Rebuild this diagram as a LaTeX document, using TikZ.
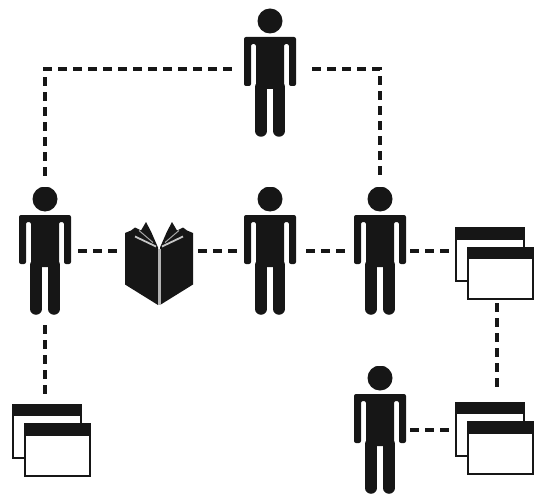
\documentclass[tikz,border=0pt]{standalone}
\usepackage{amsmath, amssymb, amsfonts}
\usepackage{tikz}
\definecolor{ink}{HTML}{161616}
\newcommand{\figureshape}{
    \begin{scope}[shift={(path picture bounding box.center)},x=1pt,y=1pt]
        \fill[ink] (0,52) circle (12.5);
        \fill[ink,rounded corners=2pt] (-26,36) -- (26,36) -- (26,-13) -- (19,-13) -- (19,29) -- (14,29) -- (14,-16) -- (-14,-16) -- (-14,29) -- (-19,29) -- (-19,-13) -- (-26,-13) -- cycle;
        \draw[ink,line width=11.5pt,line cap=round] (-9,-14) -- (-9,-58) (9,-14) -- (9,-58);
    \end{scope}
}
\newcommand{\bookshape}{
    \begin{scope}[shift={(path picture bounding box.center)},x=1pt,y=1pt]
        \foreach \s in {-1,1} {
            \fill[ink] (\s*34,30.5) -- (\s*28,33) -- (\s*24,36) -- (\s*18,33) -- (\s*13,41.5) -- (\s*8,32) -- (\s*1,16) -- (\s*1,-41.5) -- (\s*34,-21) -- cycle;
            \draw[gray!45,line width=1.8pt] (\s*24,27) -- (\s*3,17);
            \draw[gray!70,line width=1pt] (\s*20,33) -- (\s*6,21);
        }
        \draw[gray!60,line width=3pt] (0,15) -- (0,-41.5);
    \end{scope}
}
\newcommand{\windowshape}{
    \begin{scope}[shift={(path picture bounding box.center)},x=1pt,y=1pt]
        \draw[ink,line width=2pt,fill=white] (-38.5,35.5) rectangle (29,-17.5);
        \fill[ink] (-39.5,36.5) rectangle (30,24);
        \draw[ink,line width=2pt,fill=white] (-27,16) rectangle (38.5,-35.5);
        \fill[ink] (-28,16.5) rectangle (39.5,4.5);
    \end{scope}
}
\begin{document}
\begin{tikzpicture}[x=1pt,y=1pt,node distance=100pt]
                \tikzstyle{person}=[inner sep=0pt,minimum width=52pt,minimum height=128pt,path picture={\figureshape}]
                \tikzstyle{manual}=[inner sep=0pt,minimum width=68pt,minimum height=83pt,path picture={\bookshape}]
                \tikzstyle{windows}=[inner sep=0pt,minimum width=79pt,minimum height=73pt,path picture={\windowshape}]
                \tikzstyle{link}=[ink,line width=4.5pt,dash pattern=on 9pt off 6pt]
                \useasboundingbox (0,0) rectangle (534,-494);

                \node[person]   (boss)  at (270,-73)                            {};
                \node[person]   (mid)   [below of=boss,node distance=178pt]     {};
                \node[person]   (lead)  [left of=mid,node distance=225pt]       {};
                \node[person]   (peer)  [right of=mid,node distance=110pt]      {};
                \node[person]   (clerk) [below of=peer,node distance=179pt]     {};
                \node[manual]   (book)  [right of=lead,node distance=114pt,yshift=-12.5pt] {};
                \node[windows]  (winA)  [right of=peer,node distance=114.5pt,yshift=-12.5pt] {};
                \node[windows]  (winB)  [below of=winA,node distance=174.5pt]   {};
                \node[windows]  (winC)  [below of=lead,node distance=189pt,xshift=6.5pt] {};

                \draw[link,shorten <=12pt,shorten >=9pt] ([yshift=4pt]boss.west) -| (lead.north);
                \draw[link,shorten <=16pt,shorten >=9pt] ([yshift=4pt]boss.east) -| (peer.north);
                \draw[link,shorten <=7pt,shorten >=7pt] (lead.east) -- (lead.east -| book.west);
                \draw[link,shorten <=5pt,shorten >=6pt] (lead.east -| book.east) -- (mid.west);
                \draw[link,shorten <=10pt,shorten >=9pt] (mid.east) -- (peer.west);
                \draw[link,shorten <=4pt,shorten >=5pt] (peer.east) -- (peer.east -| winA.west);
                \draw[link,shorten <=3pt,shorten >=9pt] ([xshift=2.5pt]winA.south) -- ([xshift=2.5pt]winB.north);
                \draw[link,shorten <=4pt,shorten >=5pt] (clerk.east) -- (clerk.east -| winB.west);
                \draw[link,shorten <=10pt,shorten >=8pt] (lead.south) -- (lead.south |- winC.north);
            \end{tikzpicture}
\end{document}
